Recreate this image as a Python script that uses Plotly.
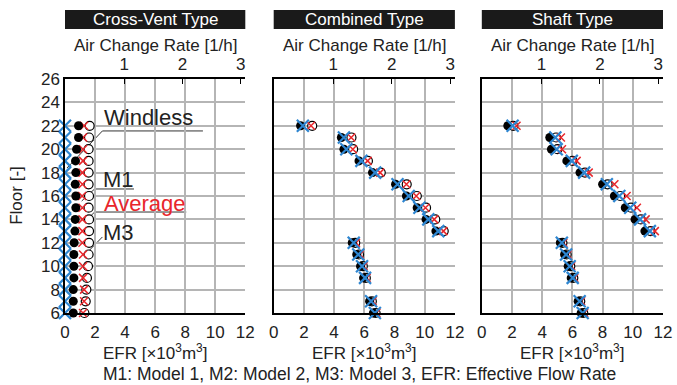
import plotly.graph_objects as go

# ---------------- data ----------------
panel_titles = ["Cross-Vent Type", "Combined Type", "Shaft Type"]

floors_cv = [22, 21, 20, 19, 18, 17, 16, 15, 14, 13, 12, 11, 10, 9, 8, 7, 6]
windless_cv = [0.0, 0.0, 0.0, 0.0, 0.0, 0.0, 0.0, 0.0, 0.0, 0.0, 0.0, 0.0, 0.0, 0.0, 0.0, 0.0, 0.0]
m1_cv = [0.90, 0.90, 0.77, 0.70, 0.72, 0.68, 0.72, 0.72, 0.68, 0.66, 0.61, 0.59, 0.59, 0.59, 0.55, 0.55, 0.55]
avg_cv = [1.27, 1.20, 1.20, 1.20, 1.16, 1.16, 1.14, 1.16, 1.16, 1.16, 1.16, 1.20, 1.20, 1.20, 1.27, 1.27, 1.20]
m3_cv = [1.64, 1.60, 1.57, 1.57, 1.57, 1.57, 1.60, 1.57, 1.60, 1.60, 1.60, 1.57, 1.53, 1.46, 1.42, 1.38, 1.29]

floors_cb = [22, 21, 20, 19, 18, 17, 16, 15, 14, 13, 12, 11, 10, 9, 7, 6]
m1_cb = [1.78, 4.48, 4.65, 5.65, 6.54, 8.07, 8.79, 9.50, 10.09, 10.74, 5.20, 5.50, 5.75, 5.95, 6.35, 6.60]
windless_cb = [1.93, 4.65, 4.81, 5.81, 6.72, 8.20, 8.94, 9.65, 10.24, 10.90, 5.30, 5.60, 5.85, 6.05, 6.45, 6.70]
avg_cb = [2.47, 5.13, 5.24, 6.22, 7.05, 8.79, 9.44, 10.05, 10.63, 11.24, 5.45, 5.70, 5.95, 6.15, 6.55, 6.80]
m3_cb = [2.55, 5.15, 5.26, 6.24, 7.09, 8.81, 9.48, 10.09, 10.70, 11.26, 5.40, 5.65, 5.90, 6.10, 6.50, 6.75]

floors_sh = [22, 21, 20, 19, 18, 17, 16, 15, 14, 13, 12, 11, 10, 9, 7, 6]
m1_sh = [1.72, 4.50, 4.61, 5.63, 6.50, 8.00, 8.78, 9.50, 10.15, 10.80, 5.20, 5.48, 5.72, 5.92, 6.38, 6.58]
windless_sh = [2.04, 4.87, 4.96, 5.96, 6.78, 8.28, 9.11, 9.83, 10.48, 11.13, 5.30, 5.58, 5.82, 6.02, 6.48, 6.68]
avg_sh = [2.30, 5.24, 5.31, 6.28, 7.08, 8.78, 9.59, 10.27, 10.85, 11.46, 5.40, 5.68, 5.92, 6.12, 6.58, 6.78]
m3_sh = [2.08, 4.92, 5.01, 6.01, 6.83, 8.33, 9.16, 9.88, 10.53, 11.18, 5.34, 5.62, 5.86, 6.06, 6.52, 6.72]

efr_ticks = [0, 2, 4, 6, 8, 10, 12]
acr_ticks = [1, 2, 3]
floor_ticks = [6, 8, 10, 12, 14, 16, 18, 20, 22, 24, 26]

# ---------------- styling ----------------
FONT = "Liberation Sans"
FS = 17
BLUE = "#2e86d1"
RED = "#e8262b"
GRID = "#b5b5b5"
TXT = "#222222"

panels = [
    (floors_cv, windless_cv, m1_cv, avg_cv, m3_cv),
    (floors_cb, windless_cb, m1_cb, avg_cb, m3_cb),
    (floors_sh, windless_sh, m1_sh, avg_sh, m3_sh),
]
domains = [[0.0, 0.3015], [0.349, 0.652], [0.697, 1.0]]

fig = go.Figure()
for i, (fl, wl, m1, av, m3) in enumerate(panels):
    xa = "x" if i == 0 else f"x{i+1}"
    ya = "y" if i == 0 else f"y{i+1}"
    common = dict(xaxis=xa, yaxis=ya, mode="markers", cliponaxis=False,
                  showlegend=False, hoverinfo="skip")
    fig.add_trace(go.Scatter(x=m3, y=fl, marker=dict(symbol="circle", size=9, color="white",
                                                     line=dict(color="black", width=1.2)), **common))
    fig.add_trace(go.Scatter(x=av, y=fl, marker=dict(symbol="x-thin", size=8, color=RED,
                                                     line=dict(color=RED, width=1.5)), **common))
    fig.add_trace(go.Scatter(x=m1, y=fl, marker=dict(symbol="circle", size=9, color="black",
                                                     line=dict(width=0)), **common))
    fig.add_trace(go.Scatter(x=wl, y=fl, marker=dict(symbol="x-thin", size=12, color=BLUE,
                                                     line=dict(color=BLUE, width=2.2)), **common))

layout = dict(
    width=677, height=385,
    margin=dict(l=65, r=5, t=79, b=72),
    paper_bgcolor="white", plot_bgcolor="white",
    font=dict(family=FONT, size=FS, color=TXT),
)

for i in range(3):
    sx = "" if i == 0 else str(i + 1)
    layout["xaxis" + sx] = dict(
        domain=domains[i], anchor="y" + sx, range=[0, 12], tickvals=efr_ticks,
        showgrid=True, gridcolor=GRID, gridwidth=1.5, zeroline=False,
        showline=True, linecolor="black", linewidth=1.5, ticks="",
        tickfont=dict(size=FS, color=TXT), ticklabelstandoff=3,
    )
    layout["yaxis" + sx] = dict(
        domain=[0, 1], anchor="x" + sx, range=[6, 26], tickvals=floor_ticks,
        showgrid=True, gridcolor=GRID, gridwidth=1.5, zeroline=False,
        showline=True, linecolor="black", linewidth=1.5, ticks="",
        showticklabels=(i == 0), tickfont=dict(size=FS, color=TXT),
    )
    tx = str(i + 4)
    layout["xaxis" + tx] = dict(
        overlaying="x" + sx if sx else "x", side="top", anchor="y" + sx,
        range=[-0.02, 3.08], tickvals=acr_ticks, ticks="inside", ticklen=5,
        tickcolor="black", tickwidth=1, showgrid=False, zeroline=False,
        showline=True, linecolor="black", linewidth=1.5,
        tickfont=dict(size=FS, color=TXT),
    )

fig.update_layout(**layout)

# invisible traces to make sure top axes render
for i in range(3):
    sx = "" if i == 0 else str(i + 1)
    fig.add_trace(go.Scatter(x=[None], y=[None], xaxis="x" + str(i + 4), yaxis="y" + sx,
                             showlegend=False, hoverinfo="skip"))

shapes = []
annotations = []
for i in range(3):
    sx = "" if i == 0 else str(i + 1)
    xd = "x" + sx + " domain" if sx else "x domain"
    shapes.append(dict(type="rect", xref=xd, yref="paper", x0=0, x1=1, y0=1.2137, y1=1.2950,
                       fillcolor="#1a1a1a", line=dict(width=0), layer="above"))
    annotations.append(dict(text=panel_titles[i], xref=xd, yref="paper", x=0.5, y=1.254,
                            showarrow=False, font=dict(size=FS, color="white"),
                            xanchor="center", yanchor="middle"))
    annotations.append(dict(text="Air Change Rate [1/h]", xref=xd, yref="paper", x=0.5, y=1.145,
                            showarrow=False, font=dict(size=FS, color=TXT),
                            xanchor="center", yanchor="middle"))
    annotations.append(dict(text="EFR [×10<sup>3</sup>m<sup>3</sup>]", xref=xd, yref="paper",
                            x=0.5, y=-0.167, showarrow=False, font=dict(size=FS, color=TXT),
                            xanchor="center", yanchor="middle"))

annotations.append(dict(text="Floor [-]", xref="paper", yref="paper", x=-0.0824, y=0.504,
                        textangle=-90, showarrow=False, font=dict(size=FS, color=TXT),
                        xanchor="center", yanchor="middle"))
annotations.append(dict(text="M1: Model 1, M2: Model 2, M3: Model 3, EFR: Effective Flow Rate",
                        xref="paper", yref="paper", x=0.4926, y=-0.262, showarrow=False,
                        font=dict(size=17.5, color=TXT), xanchor="center", yanchor="middle"))

# legend labels inside the first panel
labels = [
    ("Windless", TXT, 5.57, 22.67, [(0.13, 18.39), (2.49, 21.56), (9.18, 21.56)]),
    ("M1", TXT, 3.55, 17.37, [(1.11, 15.57), (1.97, 16.6), (4.59, 16.6)]),
    ("Average", RED, 5.31, 15.32, [(1.44, 13.95), (1.97, 14.63), (8.07, 14.63)]),
    ("M3", TXT, 3.55, 12.92, [(1.64, 11.38), (2.49, 12.5)]),
]
for txt, col, tx_, ty_, pts in labels:
    annotations.append(dict(text=txt, xref="x", yref="y", x=tx_, y=ty_, showarrow=False,
                            font=dict(size=22, color=col), xanchor="center", yanchor="middle"))
    path = "M " + " L ".join(f"{px},{py}" for px, py in pts)
    shapes.append(dict(type="path", xref="x", yref="y", path=path,
                       line=dict(color="#333333", width=1), layer="below"))

fig.update_layout(shapes=shapes, annotations=annotations)
fig.write_html("out.html")
